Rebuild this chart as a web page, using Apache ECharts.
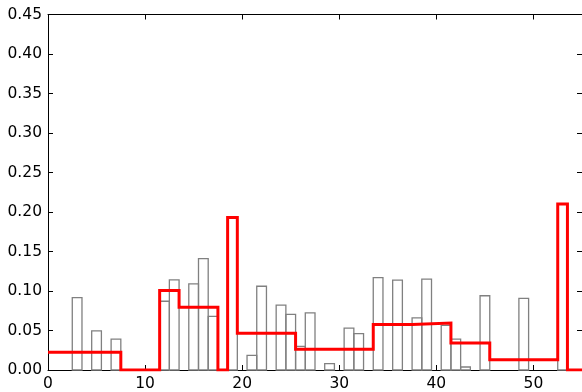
<!DOCTYPE html>
<html>
<head>
<meta charset="utf-8">
<script src="https://cdn.jsdelivr.net/npm/echarts@6/dist/echarts.min.js"></script>
<style>
  html, body { margin: 0; padding: 0; background: #fff; }
  #chart { width: 582px; height: 392px; }
</style>
</head>
<body>
<div id="chart"></div>
<script>
// histogram bins (centre of each unit-wide bin) and their heights
const binCenters = [];
for (let i = 0; i <= 54; i++) binCenters.push(i);
const binValues = [
    0, 0, 0, 0.0915, 0, 0.0495, 0, 0.039, 0, 0,
    0, 0, 0.087, 0.114, 0, 0.109, 0.141, 0.068, 0, 0.193,
    0, 0.0185, 0.106, 0, 0.0822, 0.0705, 0.0298, 0.0722, 0, 0.008,
    0, 0.0529, 0.046, 0, 0.117, 0, 0.1137, 0, 0.0659, 0.115,
    0, 0.0566, 0.039, 0.0038, 0, 0.094, 0, 0, 0, 0.0906,
    0, 0, 0, 0.21, 0
];

// coarse (merged) bins shown as the red step line
const stepEdges = [0, 7.5, 11.5, 13.5, 17.5, 18.5, 19.5, 25.5, 33.5, 37.5, 41.5, 45.5, 52.5, 53.5, 55];
const stepValues = [0.0225, 0, 0.1005, 0.0795, 0, 0.193, 0.0465, 0.0262, 0.0577, 0.0594, 0.0342, 0.0129, 0.21, 0, 0];

const xTicks = [0, 10, 20, 30, 40, 50];
const yTickStep = 0.05;

const barData = binCenters.map((c, i) => [c, binValues[i]]);
const stepData = stepEdges.map((e, i) => [e, stepValues[i]]);

const font = 'DejaVu Sans';
const tickStyle = { show: true, inside: true, length: 5, lineStyle: { color: '#000', width: 1 } };
const lineStyle = { show: true, onZero: false, lineStyle: { color: '#000', width: 1 } };

const chart = echarts.init(document.getElementById('chart'));
chart.setOption({
    animation: false,
    grid: { left: 48, top: 14.5, width: 535.4, bottom: 20, containLabel: false },
    xAxis: [
        {
            type: 'value', min: 0, max: 55, interval: 10,
            axisLine: lineStyle,
            axisTick: tickStyle,
            splitLine: { show: false },
            axisLabel: {
                color: '#000', fontFamily: font, fontSize: 15.5, margin: 6,
                showMaxLabel: false,
                formatter: (v) => xTicks.includes(v) ? String(v) : ''
            }
        },
        {
            type: 'value', position: 'top', min: 0, max: 55, interval: 10,
            axisLine: lineStyle,
            axisTick: tickStyle,
            splitLine: { show: false },
            axisLabel: { show: false }
        }
    ],
    yAxis: [
        {
            type: 'value', min: 0, max: 0.45, interval: yTickStep,
            axisLine: lineStyle,
            axisTick: tickStyle,
            splitLine: { show: false },
            axisLabel: {
                color: '#000', fontFamily: font, fontSize: 15.5, margin: 6,
                formatter: (v) => v.toFixed(2)
            }
        },
        {
            type: 'value', position: 'right', min: 0, max: 0.45, interval: yTickStep,
            axisLine: lineStyle,
            axisTick: tickStyle,
            splitLine: { show: false },
            axisLabel: { show: false }
        }
    ],
    series: [
        {
            type: 'custom',
            xAxisIndex: 0, yAxisIndex: 0,
            data: barData,
            renderItem: (params, api) => {
                const c = api.value(0), v = api.value(1);
                if (!v) return;
                const p0 = api.coord([c - 0.5, v]);
                const p1 = api.coord([c + 0.5, 0]);
                return {
                    type: 'rect',
                    shape: { x: p0[0], y: p0[1], width: p1[0] - p0[0], height: p1[1] - p0[1] },
                    style: { fill: 'rgba(255,255,255,0)', stroke: '#808080', lineWidth: 1.3 }
                };
            },
            z: 1
        },
        {
            type: 'line',
            xAxisIndex: 0, yAxisIndex: 0,
            data: stepData,
            step: 'end',
            symbol: 'none',
            lineStyle: { color: '#ff0000', width: 3, join: 'miter' },
            z: 3
        }
    ]
});
</script>
</body>
</html>
